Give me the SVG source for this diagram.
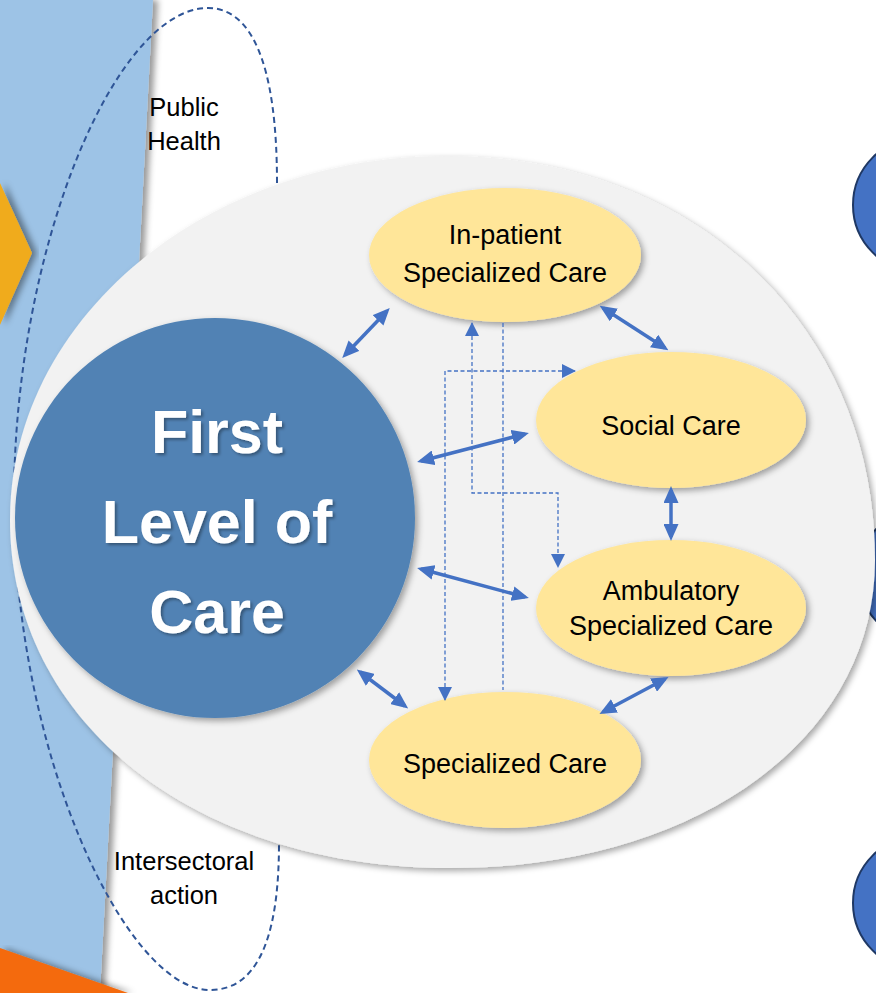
<svg xmlns="http://www.w3.org/2000/svg" width="876" height="993" viewBox="0 0 876 993">
<defs>
<style>
.lbl{font-family:"Liberation Sans",Arial,sans-serif;font-size:25.5px;fill:#000;text-anchor:middle}
.node{font-family:"Liberation Sans",Arial,sans-serif;font-size:27px;fill:#000;text-anchor:middle}
.big{font-family:"Liberation Sans",Arial,sans-serif;font-size:61px;font-weight:bold;fill:#fff;text-anchor:middle}
.yel{fill:#ffe699}
.solid{fill:none;stroke:#4472c4;stroke-width:3.5;marker-start:url(#ah);marker-end:url(#ah)}
.dash{fill:none;stroke:#4472c4;stroke-width:1.3;stroke-dasharray:4 2.5}
.rc{fill:#4472c4;stroke:#1f3864;stroke-width:2}
</style>
<marker id="ah" viewBox="0 0 17 15" refX="13" refY="7.5" markerWidth="17" markerHeight="15" markerUnits="userSpaceOnUse" orient="auto-start-reverse">
<path d="M0,0 L17,7.5 L0,15 z" fill="#4472c4"/>
</marker>
<marker id="dh" viewBox="0 0 14 14" refX="13" refY="7" markerWidth="14" markerHeight="14" markerUnits="userSpaceOnUse" orient="auto-start-reverse">
<path d="M0,0 L14,7 L0,14 z" fill="#4472c4"/>
</marker>
<filter id="sh" x="-10%" y="-10%" width="130%" height="130%">
<feDropShadow dx="3" dy="3" stdDeviation="3" flood-color="#000" flood-opacity="0.35"/>
</filter>
<filter id="shb" x="-10%" y="-5%" width="130%" height="110%">
<feDropShadow dx="5" dy="0" stdDeviation="3" flood-color="#000" flood-opacity="0.4"/>
</filter>
<filter id="ts" x="-10%" y="-10%" width="130%" height="130%">
<feDropShadow dx="2" dy="2" stdDeviation="1.5" flood-color="#000" flood-opacity="0.35"/>
</filter>
</defs>
<rect x="0" y="0" width="876" height="993" fill="#fff"/>
<g id="background">
<polygon points="0,0 153,0 100,993 0,993" fill="#9dc3e6" filter="url(#shb)"/>
<polygon points="0,183 32,253 0,325" fill="#f0ab1e" filter="url(#shb)"/>
<polygon points="0,948 128,993 0,993" fill="#f46a0a" filter="url(#shb)"/>
<circle class="rc" cx="920" cy="205" r="67"/>
<circle class="rc" cx="925" cy="575" r="67"/>
<circle class="rc" cx="920" cy="903" r="67"/>
</g>
<g id="scope">
<path d="M277,183 C277,60 250,8 208,8 C115,8 14,250 14,500 C14,750 125,990 210,990 C265,990 279,920 279,843" fill="none" stroke="#2f5597" stroke-width="2" stroke-dasharray="6 4"/>
<text class="lbl" x="184" y="116">Public</text>
<text class="lbl" x="184" y="150">Health</text>
<text class="lbl" x="184" y="870">Intersectoral</text>
<text class="lbl" x="184" y="904">action</text>
</g>
<g id="system">
<path d="M447,156 C695,156 875,326 875,560 C875,739 696,868 450,868 C195,868 10,722 10,520 C10,319 206,156 447,156 Z" fill="#f2f2f2" filter="url(#sh)"/>
</g>
<g id="first-level">
<circle cx="215" cy="518" r="200" fill="#5182b4" filter="url(#sh)"/>
<g filter="url(#ts)">
<text class="big" x="217" y="453">First</text>
<text class="big" x="217" y="543">Level of</text>
<text class="big" x="217" y="633">Care</text>
</g>
</g>
<g id="inpatient">
<ellipse class="yel" cx="505" cy="255" rx="136" ry="67" filter="url(#sh)"/>
<text class="node" x="505" y="244">In-patient</text>
<text class="node" x="505" y="282">Specialized Care</text>
</g>
<g id="social">
<ellipse class="yel" cx="671" cy="420" rx="135" ry="68" filter="url(#sh)"/>
<text class="node" x="671" y="435">Social Care</text>
</g>
<g id="ambulatory">
<ellipse class="yel" cx="671" cy="608" rx="135" ry="68" filter="url(#sh)"/>
<text class="node" x="671" y="600">Ambulatory</text>
<text class="node" x="671" y="635">Specialized Care</text>
</g>
<g id="specialized">
<ellipse class="yel" cx="505" cy="760" rx="136" ry="68" filter="url(#sh)"/>
<text class="node" x="505" y="773">Specialized Care</text>
</g>
<g id="connectors">
<line class="solid" x1="345" y1="355" x2="387" y2="311"/>
<line class="solid" x1="421" y1="461" x2="525" y2="434"/>
<line class="solid" x1="421" y1="569" x2="525" y2="597"/>
<line class="solid" x1="360" y1="672" x2="405" y2="706"/>
<line class="solid" x1="603" y1="308" x2="665" y2="348"/>
<line class="solid" x1="671" y1="490" x2="671" y2="537"/>
<line class="solid" x1="603" y1="712" x2="665" y2="679"/>
<path class="dash" d="M472,323 V493 H558 V567" marker-start="url(#dh)" marker-end="url(#dh)"/>
<path class="dash" d="M503,323 V690"/>
<path class="dash" d="M575,371 H445 V700" marker-start="url(#dh)" marker-end="url(#dh)"/>
</g>
</svg>
